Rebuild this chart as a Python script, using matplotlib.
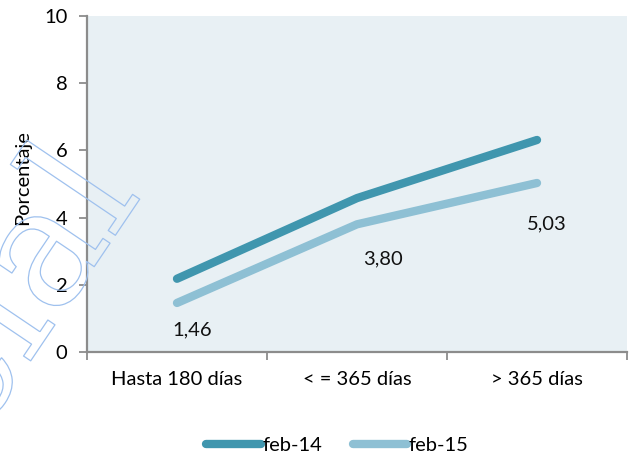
import matplotlib
matplotlib.use("Agg")
import matplotlib.pyplot as plt
import matplotlib.patheffects as pe

categories = ["Hasta 180 días", "< = 365 días", "> 365 días"]
feb14 = [2.18, 4.58, 6.31]
feb15 = [1.46, 3.80, 5.03]
labels15 = ["1,46", "3,80", "5,03"]
series_names = ["feb-14", "feb-15"]
yticks = [0, 2, 4, 6, 8, 10]

# label offsets (points) relative to each data point
label_offsets = [(11, -19.5), (18.5, -25), (7, -29.5)]

plt.rcParams['font.family'] = ['Lato', 'DejaVu Sans']
FS = 14.5

fig = plt.figure(figsize=(6.34, 4.59), dpi=100)
ax = fig.add_axes([87/634, 1-352/459, 540/634, 336/459])
ax.set_facecolor('#e8f0f4')

x = list(range(len(categories)))
c14 = '#4096ae'
c15 = '#8ec0d4'
ax.plot(x, feb14, color=c14, lw=6, solid_capstyle='round', solid_joinstyle='round', label=series_names[0], zorder=3)
ax.plot(x, feb15, color=c15, lw=6, solid_capstyle='round', solid_joinstyle='round', label=series_names[1], zorder=3)

for xi, yi, lab, off in zip(x, feb15, labels15, label_offsets):
    ax.annotate(lab, (xi, yi), xytext=off, textcoords='offset points',
                ha='center', va='center', fontsize=FS, color='#111111')

ax.set_xlim(-0.5, 2.5)
ax.set_ylim(0, 10)
ax.set_yticks(yticks)
ax.set_yticklabels([str(v) for v in yticks], fontsize=FS)
ax.set_xticks([-0.5, 0.5, 1.5, 2.5])
ax.set_xticklabels([])
ax.set_xticks(x, minor=True)
ax.set_xticklabels(categories, minor=True, fontsize=FS)
ax.tick_params(axis='x', which='major', direction='out', length=6, color='#8c8c8c', width=1.3)
ax.tick_params(axis='x', which='minor', length=0, pad=14)
ax.tick_params(axis='y', direction='out', length=6, color='#8c8c8c', width=1.3, pad=8)
for s in ['top', 'right']:
    ax.spines[s].set_visible(False)
for s in ['left', 'bottom']:
    ax.spines[s].set_color('#8c8c8c')
    ax.spines[s].set_linewidth(1.6)
ax.set_ylabel('Porcentaje', fontsize=FS)
ax.yaxis.set_label_coords(-0.104, 0.52)

leg = fig.legend(loc='center', bbox_to_anchor=(337.5/634, 1-445/459), ncol=2, frameon=False,
                 fontsize=FS, handlelength=2.7, handletextpad=0.1, columnspacing=1.5)

fig.text(0.165, 0.63, 'Uso Oficial', fontsize=120, family='DejaVu Serif', rotation=56,
         ha='right', va='center', color='none', rotation_mode='anchor',
         path_effects=[pe.withStroke(linewidth=0.9, foreground='#9fc1ee')], zorder=10)

fig.savefig('out.png', dpi=100)
